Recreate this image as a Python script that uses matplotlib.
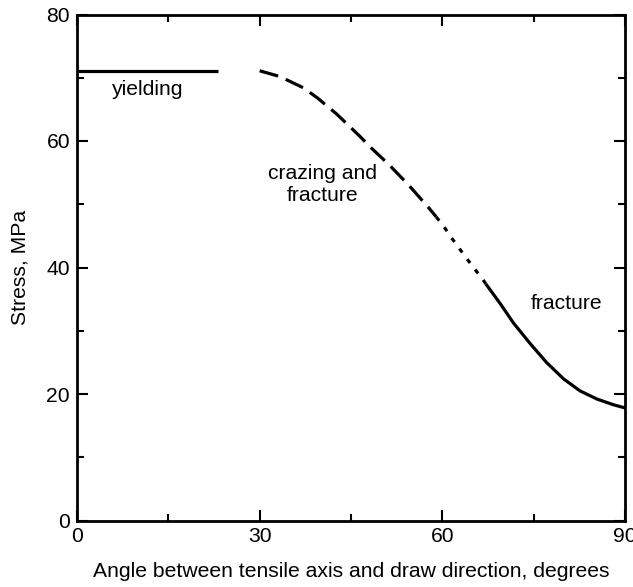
import numpy as np
import matplotlib.pyplot as plt
from matplotlib.ticker import MultipleLocator

plt.rcParams['font.family'] = ['Liberation Sans', 'DejaVu Sans']

# yielding plateau
yield_x = [0, 23.2]
yield_y = [71.1, 71.1]

# crazing and fracture (long dashes)
craze_x = [30.0, 33.3, 37.2, 39.5, 42.6, 46.5, 48.1, 51.2, 54.5, 57.8, 59.0]
craze_y = [71.1, 70.2, 68.4, 66.8, 64.3, 60.7, 59.1, 56.3, 53.0, 49.4, 48.0]

# transition (short dashes)
trans_x = [59.0, 60.3, 61.5, 63.4, 64.8, 66.5, 67.3]
trans_y = [48.0, 46.4, 44.7, 42.2, 40.4, 38.3, 37.2]

# fracture (solid)
frac_x = [67.3, 69.5, 71.7, 74.4, 77.1, 79.9, 82.6, 85.4, 88.1, 90.0]
frac_y = [37.2, 34.3, 31.2, 28.0, 25.0, 22.4, 20.5, 19.2, 18.3, 17.8]

fig = plt.figure(figsize=(6.33, 5.87), dpi=100)
ax = fig.add_axes([77 / 633, 1 - 520.5 / 587, 548 / 633, 506 / 587])

lw = 2.3
ax.plot(yield_x, yield_y, color='black', lw=lw, solid_capstyle='butt')
ax.plot(craze_x, craze_y, color='black', lw=lw, dashes=(6, 2.6),
        solid_joinstyle='round')
ax.plot(trans_x, trans_y, color='black', lw=lw, dashes=(1.5, 2.6))
ax.plot(frac_x, frac_y, color='black', lw=lw, solid_joinstyle='round')

fs = 15.2
ax.text(5.7, 68.1, 'yielding', fontsize=fs, ha='left', va='center')
ax.text(40.3, 53.2, 'crazing and\nfracture', fontsize=fs, ha='center',
        va='center', linespacing=1.2)
ax.text(80.4, 34.3, 'fracture', fontsize=fs, ha='center', va='center')

ax.set_xlim(0, 90)
ax.set_ylim(0, 80)
ax.xaxis.set_major_locator(MultipleLocator(30))
ax.xaxis.set_minor_locator(MultipleLocator(15))
ax.yaxis.set_major_locator(MultipleLocator(20))
ax.yaxis.set_minor_locator(MultipleLocator(10))
ax.tick_params(which='both', direction='in', top=True, right=True,
               width=1.5, labelsize=fs)
ax.tick_params(which='major', length=8, pad=5)
ax.tick_params(which='minor', length=5)
for s in ax.spines.values():
    s.set_linewidth(2)

ax.set_xlabel('Angle between tensile axis and draw direction, degrees',
              fontsize=fs, labelpad=11)
ax.set_ylabel('Stress, MPa', fontsize=fs, labelpad=12)

fig.savefig('out.png', dpi=100)
